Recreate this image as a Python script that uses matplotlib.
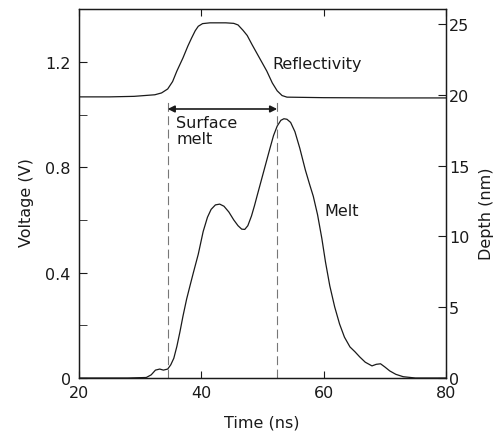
import matplotlib
matplotlib.use("Agg")
import matplotlib.pyplot as plt

# ---- data ----
melt_t = [20.0, 28.0, 31.0, 31.8, 32.5, 33.2, 33.8, 34.5, 35.0, 35.5, 36.0, 36.5, 37.0,
          37.6, 38.2, 38.7, 39.5, 40.3, 41.0, 41.6, 42.3, 43.0, 43.7, 44.5, 45.3, 46.0,
          46.6, 47.1, 47.6, 48.2, 48.7, 49.1, 49.8, 50.5, 51.2, 51.8, 52.4, 53.0, 53.5,
          54.0, 54.6, 55.3, 56.1, 57.0, 57.7, 58.3, 59.0, 59.7, 60.3, 61.0, 61.8, 62.6,
          63.4, 64.3, 65.1, 65.9, 66.8, 67.9, 68.6, 69.3, 70.0, 70.8, 71.8, 73.0, 75.0, 80.0]
melt_v = [0.0, 0.0, 0.002, 0.012, 0.030, 0.034, 0.030, 0.034, 0.050, 0.075, 0.120, 0.175, 0.235,
          0.300, 0.355, 0.400, 0.470, 0.556, 0.610, 0.640, 0.657, 0.660, 0.652, 0.630, 0.600, 0.578,
          0.565, 0.564, 0.578, 0.615, 0.655, 0.690, 0.750, 0.810, 0.870, 0.920, 0.956, 0.978, 0.984,
          0.982, 0.970, 0.935, 0.872, 0.790, 0.735, 0.690, 0.620, 0.530, 0.440, 0.350, 0.270, 0.205,
          0.155, 0.118, 0.100, 0.080, 0.060, 0.046, 0.052, 0.054, 0.042, 0.027, 0.014, 0.005, 0.0, 0.0]

refl_t = [20, 25, 29, 32.4, 33.5, 34.5, 35.3, 36.0, 37.0, 37.8, 38.4, 39.0, 39.5, 40.2, 41.4,
          44.0, 45.3, 46.0, 46.8, 47.5, 48.3, 49.5, 50.7, 51.6, 52.4, 53.2, 54.0, 60, 70, 80]
refl_v = [1.067, 1.067, 1.069, 1.075, 1.082, 1.097, 1.125, 1.165, 1.215, 1.26, 1.29, 1.318, 1.335,
          1.345, 1.348, 1.348, 1.346, 1.34, 1.32, 1.30, 1.265, 1.215, 1.165, 1.12, 1.09, 1.072,
          1.066, 1.064, 1.063, 1.063]

surface_melt_start = 34.5
surface_melt_end = 52.4

x_ticks = [20, 40, 60, 80]
v_ticks = [0, 0.4, 0.8, 1.2]
v_tick_labels = ["0", "0.4", "0.8", "1.2"]
v_minor = [0.2, 0.6, 1.0]
d_ticks = [0, 5, 10, 15, 20, 25]

# ---- figure ----
plt.rcParams['font.family'] = ['DejaVu Sans']
fs = 11.5
ink = '#1a1a1a'

fig = plt.figure(figsize=(4.95, 4.35), dpi=100)
ax = fig.add_axes([0.1596, 0.1287, 0.7414, 0.848])

ax.plot(melt_t, melt_v, color=ink, lw=0.9)
ax.plot(refl_t, refl_v, color=ink, lw=0.9)

for xv in (surface_melt_start, surface_melt_end):
    ax.plot([xv, xv], [0, 1.055], color='#777777', lw=0.8, dashes=(8, 4))

ax.annotate('', xy=(surface_melt_start, 1.021), xytext=(surface_melt_end, 1.021),
            arrowprops=dict(arrowstyle='<|-|>', color=ink, lw=1.2,
                            mutation_scale=10, shrinkA=0, shrinkB=0))

ax.text(35.9, 0.94, 'Surface\nmelt', fontsize=fs, ha='left', va='center',
        color=ink, linespacing=1.05)
ax.text(58.9, 1.193, 'Reflectivity', fontsize=fs, ha='center', va='center', color=ink)
ax.text(63.0, 0.634, 'Melt', fontsize=fs, ha='center', va='center', color=ink)

ax.set_xlim(20, 80)
ax.set_ylim(0, 1.4)
ax.set_xticks(x_ticks)
ax.set_xticklabels([str(v) for v in x_ticks])
ax.set_yticks(v_ticks)
ax.set_yticklabels(v_tick_labels)
ax.set_yticks(v_minor, minor=True)
ax.tick_params(axis='both', which='both', direction='in', labelsize=fs, colors=ink)
ax.tick_params(axis='y', which='major', length=6, pad=6)
ax.tick_params(axis='y', which='minor', length=6)
ax.tick_params(axis='x', which='major', length=5, pad=5, top=True)
for s in ax.spines.values():
    s.set_color(ink)
    s.set_linewidth(0.9)

ax2 = ax.twinx()
ax2.set_ylim(0, 26.05)
ax2.set_yticks(d_ticks)
ax2.set_yticklabels([str(v) for v in d_ticks])
ax2.tick_params(axis='y', direction='in', length=6, pad=2, labelsize=fs, colors=ink)
for s in ax2.spines.values():
    s.set_color(ink)
    s.set_linewidth(0.9)

# axis titles
fig.text(262 / 495, 1 - 423 / 435, 'Time (ns)', fontsize=fs, color=ink,
         ha='center', va='center')
fig.text(26 / 495, 1 - 203 / 435, 'Voltage (V)', fontsize=fs, color=ink,
         ha='center', va='center', rotation=90)
fig.text(486 / 495, 1 - 214 / 435, 'Depth (nm)', fontsize=fs, color=ink,
         ha='center', va='center', rotation=90)

fig.savefig('out.png', dpi=100)
